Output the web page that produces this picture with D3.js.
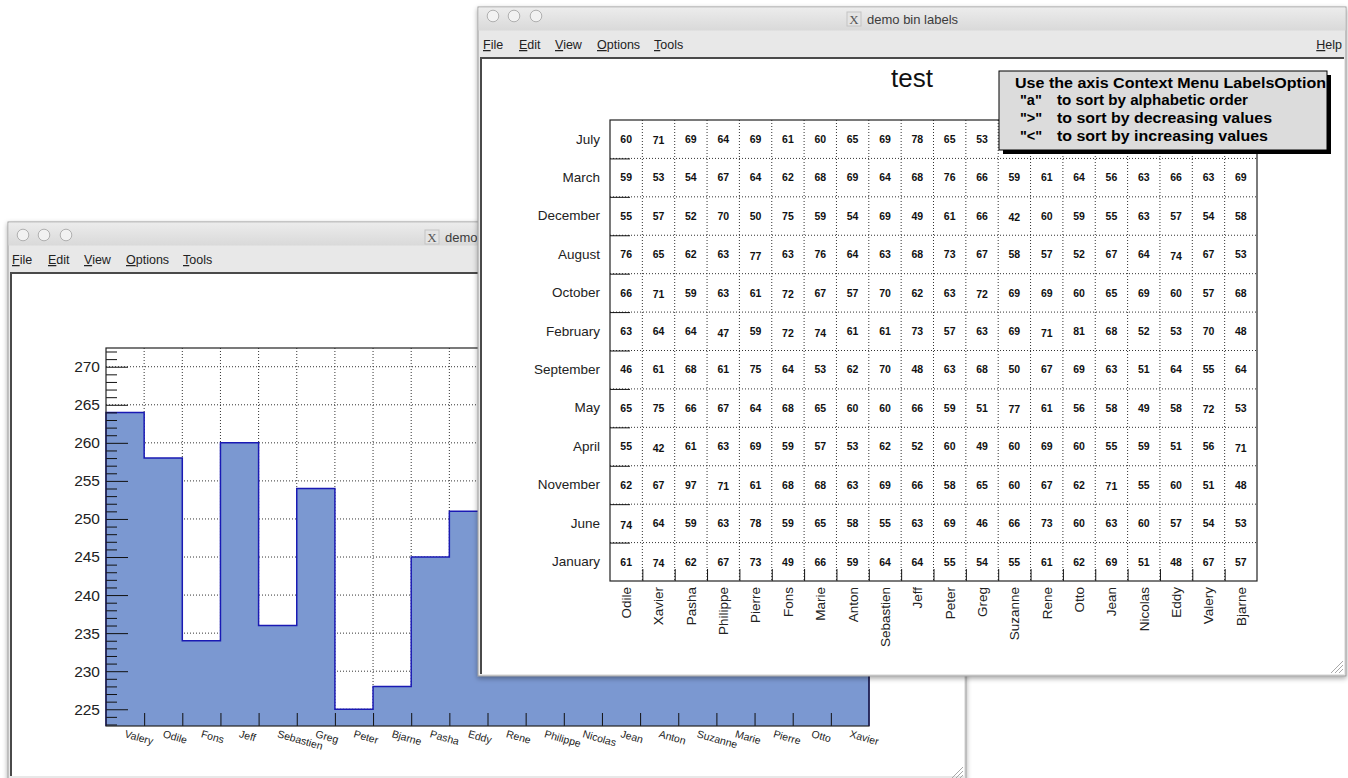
<!DOCTYPE html>
<html>
<head>
<meta charset="utf-8">
<script src="https://cdn.jsdelivr.net/npm/d3@7"></script>
<style>
  body { margin: 0; background: #fff; }
  svg { display: block; }
</style>
</head>
<body>
<script>
// 1D histogram (left window)
const people1D = ["Valery", "Odile", "Fons", "Jeff", "Sebastien", "Greg", "Peter", "Bjarne", "Pasha", "Eddy",
  "Rene", "Philippe", "Nicolas", "Jean", "Anton", "Suzanne", "Marie", "Pierre", "Otto", "Xavier"];
const counts1D = [264, 258, 234, 260, 236, 254, 225, 228, 245, 251,
  248, 244, 240, 246, 250, 238, 242, 236, 252, 241];
const yTicks1D = [225, 230, 235, 240, 245, 250, 255, 260, 265, 270];
const yRange1D = [222.8, 272.46];

// 2D table (right window); null = hidden under the note box
const months = ["July", "March", "December", "August", "October", "February",
  "September", "May", "April", "November", "June", "January"];
const people2D = ["Odile", "Xavier", "Pasha", "Philippe", "Pierre", "Fons", "Marie", "Anton", "Sebastien", "Jeff",
  "Peter", "Greg", "Suzanne", "Rene", "Otto", "Jean", "Nicolas", "Eddy", "Valery", "Bjarne"];
const cellValues = [
  [60, 71, 69, 64, 69, 61, 60, 65, 69, 78, 65, 53, null, null, null, null, null, null, null, null],
  [59, 53, 54, 67, 64, 62, 68, 69, 64, 68, 76, 66, 59, 61, 64, 56, 63, 66, 63, 69],
  [55, 57, 52, 70, 50, 75, 59, 54, 69, 49, 61, 66, 42, 60, 59, 55, 63, 57, 54, 58],
  [76, 65, 62, 63, 77, 63, 76, 64, 63, 68, 73, 67, 58, 57, 52, 67, 64, 74, 67, 53],
  [66, 71, 59, 63, 61, 72, 67, 57, 70, 62, 63, 72, 69, 69, 60, 65, 69, 60, 57, 68],
  [63, 64, 64, 47, 59, 72, 74, 61, 61, 73, 57, 63, 69, 71, 81, 68, 52, 53, 70, 48],
  [46, 61, 68, 61, 75, 64, 53, 62, 70, 48, 63, 68, 50, 67, 69, 63, 51, 64, 55, 64],
  [65, 75, 66, 67, 64, 68, 65, 60, 60, 66, 59, 51, 77, 61, 56, 58, 49, 58, 72, 53],
  [55, 42, 61, 63, 69, 59, 57, 53, 62, 52, 60, 49, 60, 69, 60, 55, 59, 51, 56, 71],
  [62, 67, 97, 71, 61, 68, 68, 63, 69, 66, 58, 65, 60, 67, 62, 71, 55, 60, 51, 48],
  [74, 64, 59, 63, 78, 59, 65, 58, 55, 63, 69, 46, 66, 73, 60, 63, 60, 57, 54, 53],
  [61, 74, 62, 67, 73, 49, 66, 59, 64, 64, 55, 54, 55, 61, 62, 69, 51, 48, 67, 57]
];
const plotTitle = "test";
const noteHead = "Use the axis Context Menu LabelsOption";
const noteKeys = ["\"a\"", "\">\"", "\"<\""];
const noteText = ["to sort by alphabetic order", "to sort by decreasing values", "to sort by increasing values"];

const menuItems = ["File", "Edit", "View", "Options", "Tools"];
const windowTitle = "demo bin labels";

const svg = d3.select("body").append("svg")
  .attr("width", 1348)
  .attr("height", 778);

const defs = svg.append("defs");
const tg = defs.append("linearGradient").attr("id", "tbar").attr("x1", 0).attr("y1", 0).attr("x2", 0).attr("y2", 1);
tg.append("stop").attr("offset", "0%").attr("stop-color", "#ececec");
tg.append("stop").attr("offset", "100%").attr("stop-color", "#d9d9d9");
const sh = defs.append("filter").attr("id", "wshadow").attr("x", "-5%").attr("y", "-5%").attr("width", "110%").attr("height", "110%");
sh.append("feDropShadow").attr("dx", 0).attr("dy", 2).attr("stdDeviation", 2.5)
  .attr("flood-color", "#000").attr("flood-opacity", 0.35);

const sans = "'Liberation Sans', Arial, Helvetica, sans-serif";

// window chrome: title bar, menu bar, canvas area
function drawWindow(g, w, titleCenter, withHelp, menuX, circY, titleY) {
  g.append("rect").attr("x", w.x).attr("y", w.y).attr("width", w.w).attr("height", w.h)
    .attr("fill", "#e8e8e8").attr("stroke", "#9a9a9a").attr("filter", "url(#wshadow)");
  g.append("rect").attr("x", w.x + 0.5).attr("y", w.y + 0.5).attr("width", w.w - 1).attr("height", 23)
    .attr("fill", "url(#tbar)");
  [15, 36, 58].forEach(dx => {
    g.append("circle").attr("cx", w.x + dx).attr("cy", circY).attr("r", 5.8)
      .attr("fill", "#f2f2f2").attr("stroke", "#b0b0b0");
  });
  // title with X icon
  g.append("rect").attr("x", titleCenter - 62).attr("y", titleY - 12).attr("width", 14).attr("height", 14)
    .attr("fill", "#e4e4e4").attr("stroke", "#c4c4c4");
  g.append("text").attr("x", titleCenter - 55).attr("y", titleY).attr("text-anchor", "middle")
    .attr("font-family", "'Liberation Serif', serif").attr("font-size", 13).attr("fill", "#555").text("X");
  g.append("text").attr("x", titleCenter - 42).attr("y", titleY)
    .attr("font-family", sans).attr("font-size", 13).attr("fill", "#3c3c3c").text(windowTitle);
  // menu
  const menuY = w.y + 42;
  menuItems.forEach((m, i) => {
    const t = g.append("text").attr("x", menuX[i]).attr("y", menuY)
      .attr("font-family", sans).attr("font-size", 12.5).attr("fill", "#222");
    t.append("tspan").attr("text-decoration", "underline").text(m[0]);
    t.append("tspan").text(m.slice(1));
  });
  if (withHelp) {
    const t = g.append("text").attr("x", w.x + w.w - 4).attr("y", menuY).attr("text-anchor", "end")
      .attr("font-family", sans).attr("font-size", 12.5).attr("fill", "#222");
    t.append("tspan").attr("text-decoration", "underline").text("H");
    t.append("tspan").text("elp");
  }
  // canvas
  g.append("rect").attr("x", w.cx).attr("y", w.cy).attr("width", w.cw).attr("height", w.ch).attr("fill", "#fff");
  g.append("path").attr("d", `M${w.cx + 1},${w.cy + w.ch}V${w.cy + 1}H${w.cx + w.cw}`)
    .attr("fill", "none").attr("stroke", "#4a4a4a").attr("stroke-width", 2);
  // resize grip
  const gx = w.x + w.w - 3, gy = w.y + w.h - 3;
  [4, 8, 12].forEach(d => {
    g.append("line").attr("x1", gx - d).attr("y1", gy).attr("x2", gx).attr("y2", gy - d)
      .attr("stroke", "#a8a8a8").attr("stroke-width", 1);
  });
}

function dotted(sel) {
  return sel.attr("stroke", "#333").attr("stroke-width", 1).attr("stroke-dasharray", "1,2");
}

// ---------------- left window: 1D histogram ----------------
const leftWin = { x: 8, y: 222, w: 958, h: 560, cx: 10, cy: 272, cw: 954, ch: 504 };
const gL = svg.append("g");
drawWindow(gL, leftWin, 487, false, [12, 48, 84, 126, 183], 235, 242);

const p1 = { l: 106, r: 869, t: 348, b: 726 };
const x1 = d3.scaleLinear().domain([0, people1D.length]).range([p1.l, p1.r]);
const xb1 = d3.scaleBand().domain(people1D).range([p1.l, p1.r]);
const y1 = d3.scaleLinear().domain(yRange1D).range([p1.b, p1.t]);

// grid
gL.append("g").selectAll("line").data(d3.range(1, people1D.length)).join("line")
  .attr("x1", d => x1(d)).attr("x2", d => x1(d)).attr("y1", p1.t).attr("y2", p1.b).call(dotted);
gL.append("g").selectAll("line").data(yTicks1D).join("line")
  .attr("x1", p1.l).attr("x2", p1.r).attr("y1", d => y1(d)).attr("y2", d => y1(d)).call(dotted);

// histogram steps
const steps = [[0, yRange1D[0]]];
counts1D.forEach((v, i) => { steps.push([i, v]); steps.push([i + 1, v]); });
steps.push([people1D.length, yRange1D[0]]);
gL.append("path").datum(steps.slice(1, -1))
  .attr("d", d3.area().x(d => x1(d[0])).y0(p1.b).y1(d => y1(d[1])))
  .attr("fill", "#7b98d1");
gL.append("path").datum(steps)
  .attr("d", d3.line().x(d => x1(d[0])).y(d => y1(d[1])))
  .attr("fill", "none").attr("stroke", "#1a1ab4").attr("stroke-width", 1.5);

// y axis
const minorTicks = d3.range(Math.ceil(yRange1D[0]), Math.floor(yRange1D[1]) + 1).filter(v => v % 5 !== 0);
gL.append("g").attr("transform", `translate(${p1.l},0)`)
  .call(d3.axisLeft(y1).tickValues(minorTicks).tickSize(-11).tickFormat(""))
  .call(a => a.select(".domain").remove())
  .call(a => a.selectAll("line").attr("stroke", "#111"));
gL.append("g").attr("transform", `translate(${p1.l},0)`)
  .call(d3.axisLeft(y1).tickValues(yTicks1D).tickSize(-22).tickPadding(6))
  .call(a => a.select(".domain").remove())
  .call(a => a.selectAll("line").attr("stroke", "#111"))
  .call(a => a.selectAll("text").attr("font-family", sans).attr("font-size", 15.5).attr("fill", "#222"));

// x axis ticks at bin edges
gL.append("g").attr("transform", `translate(0,${p1.b})`)
  .call(d3.axisBottom(x1).tickValues(d3.range(1, people1D.length)).tickSize(-13).tickFormat(""))
  .call(a => a.select(".domain").remove())
  .call(a => a.selectAll("line").attr("stroke", "#111"));

// slanted bin labels
gL.append("g").selectAll("text").data(people1D).join("text")
  .attr("transform", d => `translate(${xb1(d) + xb1.bandwidth() / 2 - 1},737) rotate(16)`)
  .attr("font-family", sans).attr("font-size", 10.5).attr("fill", "#222")
  .text(d => d);

gL.append("rect").attr("x", p1.l).attr("y", p1.t).attr("width", p1.r - p1.l).attr("height", p1.b - p1.t)
  .attr("fill", "none").attr("stroke", "#222").attr("stroke-width", 1.2);

// ---------------- right window: 2D labelled table ----------------
const rightWin = { x: 478, y: 7, w: 868, h: 669, cx: 480, cy: 57, cw: 864, ch: 617 };
const gR = svg.append("g");
drawWindow(gR, rightWin, 909, true, [483, 519, 555, 597, 654], 16, 24);

const p2 = { l: 610, r: 1257, t: 120, b: 581 };
const xb2 = d3.scaleBand().domain(people2D).range([p2.l, p2.r]);
const yb2 = d3.scaleBand().domain(months).range([p2.t, p2.b]);
const xl2 = d3.scaleLinear().domain([0, people2D.length]).range([p2.l, p2.r]);
const yl2 = d3.scaleLinear().domain([0, months.length]).range([p2.t, p2.b]);

gR.append("g").selectAll("line").data(d3.range(1, people2D.length)).join("line")
  .attr("x1", d => xl2(d)).attr("x2", d => xl2(d)).attr("y1", p2.t).attr("y2", p2.b).call(dotted);
gR.append("g").selectAll("line").data(d3.range(1, months.length)).join("line")
  .attr("x1", p2.l).attr("x2", p2.r).attr("y1", d => yl2(d)).attr("y2", d => yl2(d)).call(dotted);

// ticks
gR.append("g").attr("transform", `translate(${p2.l},0)`)
  .call(d3.axisLeft(yl2).tickValues(d3.range(1, months.length)).tickSize(-20).tickFormat(""))
  .call(a => a.select(".domain").remove())
  .call(a => a.selectAll("line").attr("stroke", "#111"));
gR.append("g").attr("transform", `translate(0,${p2.b})`)
  .call(d3.axisBottom(xl2).tickValues(d3.range(1, people2D.length)).tickSize(-12).tickFormat(""))
  .call(a => a.select(".domain").remove())
  .call(a => a.selectAll("line").attr("stroke", "#111"));

// month labels
gR.append("g").attr("transform", `translate(${p2.l},0)`)
  .call(d3.axisLeft(yb2).tickSize(0).tickPadding(10))
  .call(a => a.select(".domain").remove())
  .call(a => a.selectAll("text").attr("font-family", sans).attr("font-size", 13.5).attr("fill", "#222"));

// people labels, vertical
gR.append("g").selectAll("text").data(people2D).join("text")
  .attr("transform", d => `translate(${xb2(d) + xb2.bandwidth() / 2},587) rotate(-90)`)
  .attr("text-anchor", "end").attr("dy", "0.36em")
  .attr("font-family", sans).attr("font-size", 13.5).attr("fill", "#222")
  .text(d => d);

// cell values
const cells = [];
cellValues.forEach((row, r) => row.forEach((v, c) => { if (v !== null) cells.push({ m: months[r], p: people2D[c], v }); }));
gR.append("g").selectAll("text").data(cells).join("text")
  .attr("x", d => xb2(d.p) + xb2.bandwidth() / 2)
  .attr("y", d => yb2(d.m) + yb2.bandwidth() / 2 + (/^[1247]+$/.test(String(d.v)) ? 1.5 : 0))
  .attr("dy", "0.36em").attr("text-anchor", "middle")
  .attr("font-family", sans).attr("font-weight", "bold").attr("font-size", 10.5).attr("fill", "#111")
  .text(d => d.v);

gR.append("rect").attr("x", p2.l).attr("y", p2.t).attr("width", p2.r - p2.l).attr("height", p2.b - p2.t)
  .attr("fill", "none").attr("stroke", "#222").attr("stroke-width", 1.2);

// title
gR.append("text").attr("x", 912).attr("y", 87).attr("text-anchor", "middle")
  .attr("font-family", sans).attr("font-size", 26).attr("fill", "#111").text(plotTitle);

// note box
const nb = { x: 999, y: 71, w: 328, h: 79 };
gR.append("rect").attr("x", nb.x + 4).attr("y", nb.y + 4).attr("width", nb.w).attr("height", nb.h).attr("fill", "#000");
gR.append("rect").attr("x", nb.x).attr("y", nb.y).attr("width", nb.w).attr("height", nb.h)
  .attr("fill", "#dcdcdc").attr("stroke", "#000").attr("stroke-width", 1);
gR.append("text").attr("x", 1015).attr("y", 87.5)
  .attr("font-family", sans).attr("font-weight", "bold").attr("font-size", 14.5).attr("fill", "#000")
  .attr("textLength", 311).attr("lengthAdjust", "spacingAndGlyphs").text(noteHead);
const noteW = [191, 215, 211];
noteKeys.forEach((k, i) => {
  const yy = 105 + i * 17.8;
  gR.append("text").attr("x", 1020).attr("y", yy)
    .attr("font-family", sans).attr("font-weight", "bold").attr("font-size", 14.5).attr("fill", "#000").text(k);
  gR.append("text").attr("x", 1057).attr("y", yy)
    .attr("font-family", sans).attr("font-weight", "bold").attr("font-size", 14.5).attr("fill", "#000")
    .attr("textLength", noteW[i]).attr("lengthAdjust", "spacingAndGlyphs").text(noteText[i]);
});
</script>
</body>
</html>
